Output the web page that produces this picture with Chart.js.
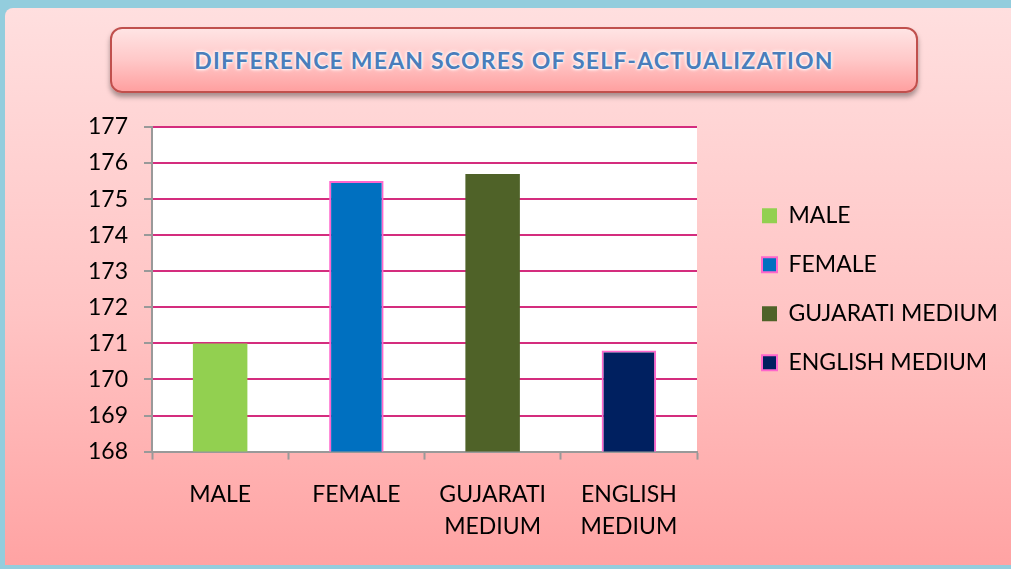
<!DOCTYPE html>
<html>
<head>
<meta charset="utf-8">
<script src="https://cdn.jsdelivr.net/npm/chart.js@4/dist/chart.umd.min.js"></script>
<style>
  html, body { margin: 0; padding: 0; }
  body { width: 1011px; height: 569px; position: relative; overflow: hidden; background: #93CDDD; font-family: Lato, "Open Sans", sans-serif; }
  #panel { position: absolute; left: 5px; top: 8px; right: 0; bottom: 4px; border-top-left-radius: 8px;
           background: linear-gradient(to bottom, #FFDFDF 0%, #FFC4C4 55%, #FFA3A3 100%); }
  #title { position: absolute; left: 110px; top: 27px; width: 804px; height: 62px; border: 2px solid #C0504D; border-radius: 12px;
           background: linear-gradient(to bottom, #FFE4E4 0%, #FFC8C8 50%, #FFA0A0 100%);
           box-shadow: 0 4px 5px rgba(0,0,0,0.35);
           display: flex; align-items: center; justify-content: center;
           color: #4A7EBB; font-weight: bold; font-size: 23px; letter-spacing: 1.2px;
           text-shadow: 0 0 2px #fff, 0 0 3px #fff, 0 0 4px #fff; }
  #box { position: absolute; left: 0; top: 0; width: 1011px; height: 569px; }
</style>
</head>
<body>
<div id="panel"></div>
<div id="title">DIFFERENCE MEAN SCORES OF SELF-ACTUALIZATION</div>
<div id="box"><canvas id="chart"></canvas></div>
<script>
const categories = ['MALE', 'FEMALE', 'GUJARATI MEDIUM', 'ENGLISH MEDIUM'];
const scores = [171.0, 175.5, 175.7, 170.8];
const barColors = ['#92D050', '#0070C0', '#4F6228', '#002060'];
const edgeColors = ['#92D050', '#FF66CC', '#4F6228', '#FF66CC'];
const edgeWidths = [0, 2, 0, 2];
const yTicks = [168, 169, 170, 171, 172, 173, 174, 175, 176, 177];

Chart.defaults.font.family = 'Lato, "Open Sans", sans-serif';
Chart.defaults.color = '#000';

// white plot area
const plotBg = {
    id: 'plotBg',
    beforeDraw(chart) {
        const a = chart.chartArea;
        const ctx = chart.ctx;
        ctx.save();
        ctx.fillStyle = '#fff';
        ctx.fillRect(a.left, a.top, a.right - a.left, a.bottom - a.top);
        ctx.restore();
    }
};

// push the legend away from the plot, like the original
const legendGap = {
    id: 'legendGap',
    afterLayout(chart) {
        const lg = chart.legend;
        lg.left = chart.chartArea.right + 65 - lg.options.labels.padding;
        lg.right = chart.width;
        lg.width = lg.right - lg.left;
    }
};

new Chart(document.getElementById('chart').getContext('2d'), {
    type: 'bar',
    data: {
        labels: categories,
        datasets: [{
            label: 'Mean score',
            data: scores,
            backgroundColor: barColors,
            borderColor: edgeColors,
            borderWidth: edgeWidths,
            categoryPercentage: 1,
            barPercentage: 0.4
        }]
    },
    options: {
        responsive: true,
        maintainAspectRatio: false,
        animation: false,
        layout: { padding: { top: 127, left: 72, right: 164, bottom: 7 } },
        scales: {
            x: {
                grid: { drawOnChartArea: false, tickColor: '#999', tickLength: 8, tickWidth: 2 },
                border: { color: '#999', width: 2 },
                ticks: {
                    padding: 19,
                    font: { size: 23, lineHeight: 1.4 },
                    callback: function(v) { return this.getLabelForValue(v).split(' '); }
                }
            },
            y: {
                min: 168,
                max: 177,
                afterBuildTicks: s => { s.ticks = yTicks.map(v => ({ value: v })); },
                grid: { color: '#D42D7E', lineWidth: 2, tickColor: '#999', tickLength: 8, tickWidth: 2 },
                border: { color: '#999', width: 2 },
                ticks: { padding: 16, font: { size: 23 } }
            }
        },
        plugins: {
            legend: {
                position: 'right',
                fullSize: false,
                maxWidth: 150,
                labels: {
                    boxWidth: 15,
                    boxHeight: 15,
                    padding: 26,
                    font: { size: 23 },
                    generateLabels: () => categories.map((c, i) => ({
                        text: c,
                        fillStyle: barColors[i],
                        strokeStyle: edgeColors[i],
                        lineWidth: edgeWidths[i],
                        hidden: false,
                        index: i
                    }))
                }
            },
            tooltip: { enabled: false }
        }
    },
    plugins: [plotBg, legendGap]
});
</script>
</body>
</html>
